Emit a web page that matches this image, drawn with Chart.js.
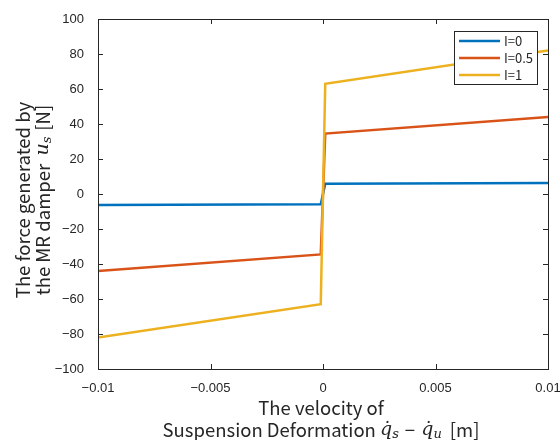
<!DOCTYPE html>
<html>
<head>
<meta charset="utf-8">
<script src="https://cdn.jsdelivr.net/npm/chart.js@4.4.1/dist/chart.umd.min.js"></script>
<style>
  html, body { margin: 0; padding: 0; background: #fff; }
  #wrap { width: 560px; height: 440px; position: relative; }
</style>
</head>
<body>
<div id="wrap"><canvas id="mrChart"></canvas></div>
<script>
// velocity of suspension deformation (x) and damper force for each current level
const velocity = [-0.01, -0.0001, 0.0001, 0.01];
const forceI0 = [-6.3, -5.8, 5.8, 6.3];
const forceI05 = [-44, -34.5, 34.5, 44];
const forceI1 = [-82, -63, 63, 82];
const seriesLabels = ["I=0", "I=0.5", "I=1"];
const xTicks = [-0.01, -0.005, 0, 0.005, 0.01];
const yTicks = [-100, -80, -60, -40, -20, 0, 20, 40, 60, 80, 100];

const colors = ["#0072BD", "#D95319", "#EDB120"];
const axisColor = "#262626";

function toPoints(ys) {
    return velocity.map((v, i) => ({ x: v, y: ys[i] }));
}

function fmt(v) {
    // MATLAB style minus sign
    let s = String(Math.round(v * 100000) / 100000);
    return s.replace("-", "\u2212");
}

// draw a line of mixed text segments centred on (cx, cy)
function drawRich(ctx, segs, cx, cy) {
    let total = 0;
    segs.forEach((s) => {
        ctx.font = s.font;
        s.w = ctx.measureText(s.t).width;
        total += s.w + (s.gap || 0);
    });
    let x = cx - total / 2;
    segs.forEach((s) => {
        ctx.font = s.font;
        ctx.fillText(s.t, x, cy + (s.dy || 0));
        x += s.w + (s.gap || 0);
    });
}

const frame = {
    id: "frame",
    afterDraw(chart) {
        const ctx = chart.ctx;
        const { left, right, top, bottom } = chart.chartArea;
        const xs = chart.scales.x, ys = chart.scales.y;
        ctx.save();
        ctx.strokeStyle = axisColor;
        ctx.lineWidth = 1;
        ctx.strokeRect(Math.round(left) + 0.5, Math.round(top) + 0.5,
            Math.round(right - left), Math.round(bottom - top));

        // inward tick marks on all four sides
        ctx.beginPath();
        xTicks.forEach((t) => {
            const px = Math.round(xs.getPixelForValue(t)) + 0.5;
            ctx.moveTo(px, bottom); ctx.lineTo(px, bottom - 5);
            ctx.moveTo(px, top); ctx.lineTo(px, top + 5);
        });
        yTicks.forEach((t) => {
            const py = Math.round(ys.getPixelForValue(t)) + 0.5;
            ctx.moveTo(left, py); ctx.lineTo(left + 5, py);
            ctx.moveTo(right, py); ctx.lineTo(right - 5, py);
        });
        ctx.stroke();

        // legend box in the top right corner
        const lx = 454, ly = 31, lw = 83, lh = 53;
        ctx.fillStyle = "#fff";
        ctx.fillRect(lx, ly, lw, lh);
        ctx.strokeStyle = axisColor;
        ctx.strokeRect(lx + 0.5, ly + 0.5, lw, lh);
        const rows = [41, 58, 75];
        ctx.font = "13px 'Noto Sans CJK JP'";
        ctx.textBaseline = "middle";
        ctx.textAlign = "left";
        seriesLabels.forEach((lab, i) => {
            ctx.strokeStyle = colors[i];
            ctx.lineWidth = 2.5;
            ctx.beginPath();
            ctx.moveTo(459, rows[i]); ctx.lineTo(500, rows[i]);
            ctx.stroke();
            ctx.fillStyle = axisColor;
            ctx.fillText(lab, 504, rows[i]);
        });

        // axis titles
        ctx.fillStyle = axisColor;
        ctx.textBaseline = "middle";
        ctx.textAlign = "left";
        const sans = "18.5px 'Noto Sans CJK JP'";
        const ital = "italic 19px 'DejaVu Serif'";
        const sub = "italic 13px 'DejaVu Serif'";
        drawRich(ctx, [{ t: "The velocity of", font: sans }], 321, 408);
        drawRich(ctx, [
            { t: "Suspension Deformation ", font: sans },
            { t: "q\u0307", font: ital },
            { t: "s", font: sub, dy: 5, gap: 6 },
            { t: "\u2212 ", font: sans, gap: 2 },
            { t: "q\u0307", font: ital },
            { t: "u", font: sub, dy: 5, gap: 8 },
            { t: "[m]", font: sans }
        ], 321, 430);

        ctx.save();
        ctx.translate(23, 200);
        ctx.rotate(-Math.PI / 2);
        drawRich(ctx, [{ t: "The force generated by", font: sans }], 0, 0);
        ctx.restore();
        ctx.save();
        ctx.translate(43, 200);
        ctx.rotate(-Math.PI / 2);
        drawRich(ctx, [
            { t: "the MR damper  ", font: sans },
            { t: "u", font: ital },
            { t: "s", font: sub, dy: 5, gap: 6 },
            { t: "[N]", font: sans }
        ], 0, 0);
        ctx.restore();
        ctx.restore();
    }
};

const ctx = document.getElementById("mrChart").getContext("2d");
const mrChart = new Chart(ctx, {
    type: "line",
    data: {
        datasets: [
            { label: seriesLabels[0], data: toPoints(forceI0), borderColor: colors[0], order: 2 },
            { label: seriesLabels[1], data: toPoints(forceI05), borderColor: colors[1], order: 1 },
            { label: seriesLabels[2], data: toPoints(forceI1), borderColor: colors[2], order: 0 }
        ]
    },
    options: {
        responsive: true,
        maintainAspectRatio: false,
        animation: false,
        datasets: {
            line: { borderWidth: 2.5, pointRadius: 0, tension: 0, fill: false }
        },
        layout: { padding: { left: 0, right: 12, top: 19, bottom: 0 } },
        plugins: {
            legend: { display: false },
            tooltip: { enabled: false }
        },
        scales: {
            x: {
                type: "linear",
                min: -0.01,
                max: 0.01,
                afterBuildTicks: (s) => { s.ticks = xTicks.map((v) => ({ value: v })); },
                afterFit: (s) => {
                    s.height = 71;
                    s.paddingLeft = 0;
                    s.paddingRight = 0;
                },
                grid: { display: false },
                border: { display: false },
                ticks: {
                    padding: 4,
                    color: axisColor,
                    font: { family: "'Liberation Sans'", size: 13 },
                    maxRotation: 0,
                    callback: (v) => fmt(v)
                }
            },
            y: {
                type: "linear",
                min: -100,
                max: 100,
                afterBuildTicks: (s) => { s.ticks = yTicks.map((v) => ({ value: v })); },
                afterFit: (s) => {
                    s.width = 98;
                    s.paddingTop = 0;
                    s.paddingBottom = 0;
                },
                grid: { display: false },
                border: { display: false },
                ticks: {
                    padding: 6,
                    color: axisColor,
                    font: { family: "'Liberation Sans'", size: 13 },
                    callback: (v) => fmt(v)
                }
            }
        }
    },
    plugins: [frame]
});
</script>
</body>
</html>
